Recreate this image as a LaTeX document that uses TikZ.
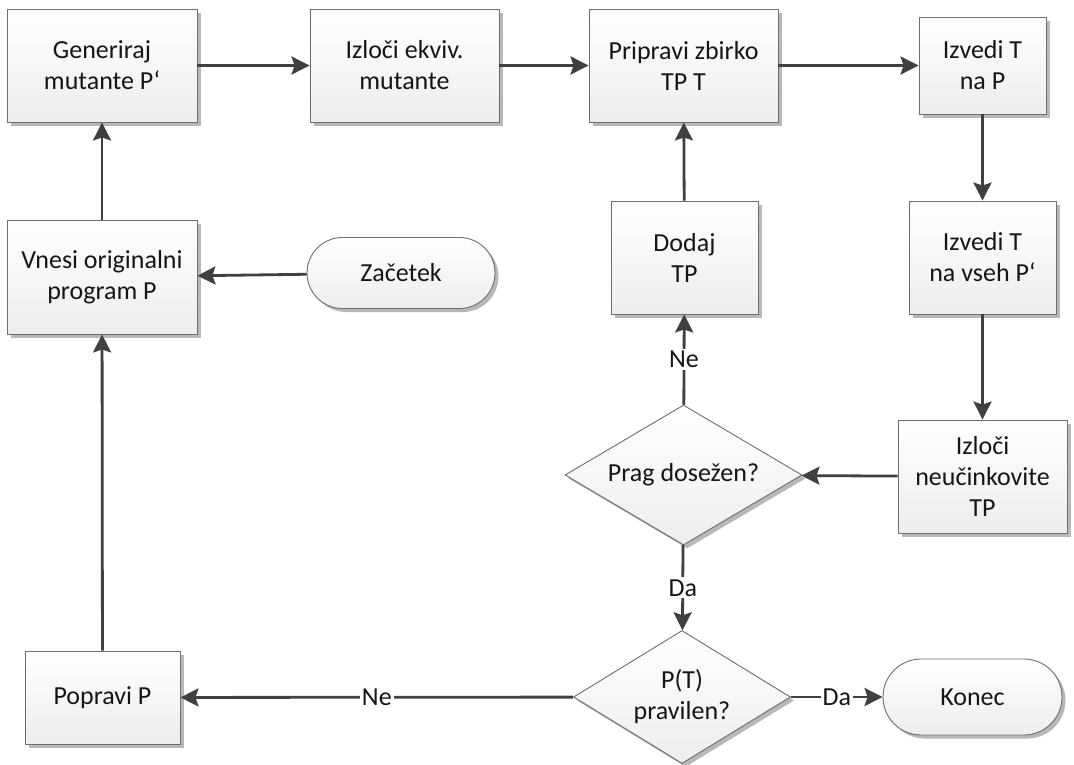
\documentclass[tikz,border=0pt]{standalone}
\usepackage{fontspec}
\setmainfont{Carlito}
\usetikzlibrary{shapes.geometric,shapes.misc,shadows,arrows.meta}

\definecolor{linegray}{HTML}{404040}
\definecolor{edgegray}{HTML}{6E6E6E}
\definecolor{txt}{HTML}{151515}

\tikzset{
  base/.style={draw=edgegray, line width=0.9pt, top color=white, bottom color=black!7,
    text=txt, align=center, inner sep=0pt,
    font=\fontsize{26}{31}\selectfont,
    drop shadow={shadow xshift=3.5pt, shadow yshift=-3.5pt, fill=black!28, opacity=1}},
  procbox/.style={base, rectangle},
  decision/.style={base, diamond, aspect=1.7},
  terminal/.style={base, rounded rectangle},
  flow/.style={draw=linegray, line width=2.8pt, -{Stealth[length=18pt,width=18pt,inset=3pt]}},
  lbl/.style={fill=white, text=txt, inner sep=2pt, font=\fontsize{26}{31}\selectfont}
}

\begin{document}
\begin{tikzpicture}[x=1pt,y=-1pt]
\useasboundingbox (0,0) rectangle (1074,764);

% process steps
\node[procbox, minimum width=190pt, minimum height=113pt] (gen) at (102,65.5) {Generiraj\\mutante P‘};
\node[procbox, minimum width=189pt, minimum height=113pt] (izl) at (404.5,65.5) {Izloči ekviv.\\mutante};
\node[procbox, minimum width=189pt, minimum height=113pt] (pri) at (683.5,65.5) {Pripravi zbirko\\TP T};
\node[procbox, minimum width=127pt, minimum height=97pt] (izp) at (982.5,65.5) {Izvedi T\\na P};
\node[procbox, minimum width=147pt, minimum height=113pt] (izv) at (982.5,257.5) {Izvedi T\\na vseh P‘};
\node[procbox, minimum width=190pt, minimum height=114pt] (vne) at (102,277) {Vnesi originalni\\program P};
\node[procbox, minimum width=147pt, minimum height=113pt] (dod) at (684.5,257.5) {Dodaj\\TP};
\node[procbox, minimum width=169pt, minimum height=113pt] (neu) at (982.5,476.5) {Izloči\\neučinkovite\\TP};
\node[procbox, minimum width=155pt, minimum height=93pt] (pop) at (102.5,697.5) {Popravi P};

% start / end
\node[terminal, minimum width=188pt, minimum height=71pt] (zac) at (401,273) {Začetek};
\node[terminal, minimum width=179pt, minimum height=76pt] (kon) at (972.5,697) {Konec};

% decisions
\node[decision, minimum width=237pt, minimum height=140pt] (prag) at (683.5,475) {Prag dosežen?};
\node[decision, minimum width=217pt, minimum height=133pt] (pt) at (682,697) {P(T)\\pravilen?};

% connectors
\draw[flow] (gen) -- (izl);
\draw[flow] (izl) -- (pri);
\draw[flow] (pri) -- (izp);
\draw[flow] (izp) -- (izv);
\draw[flow] (izv) -- (neu);
\draw[flow] (neu) -- (prag);
\draw[flow] (prag) -- node[lbl] {Ne} (dod);
\draw[flow] (dod) -- (pri);
\draw[flow] (prag) -- node[lbl] {Da} (pt);
\draw[flow] (pt) -- node[lbl] {Da} (kon);
\draw[flow] (pt) -- node[lbl] {Ne} (pop);
\draw[flow] (pop) -- (vne);
\draw[flow] (zac) -- (vne);
\draw[flow] (vne) -- (gen);
\end{tikzpicture}
\end{document}
